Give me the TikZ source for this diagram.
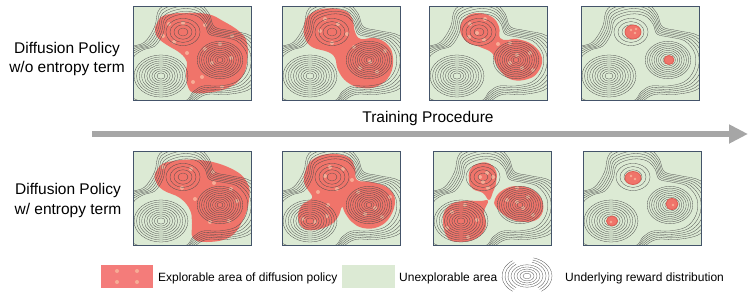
\documentclass[tikz,border=0pt]{standalone}
\usepackage{fontspec}
\setmainfont{Liberation Sans}
\usetikzlibrary{arrows.meta}
\definecolor{explred}{RGB}{240,116,106}
\definecolor{keyred}{RGB}{244,124,122}
\definecolor{seedred}{RGB}{247,172,150}
\definecolor{rimred}{RGB}{222,92,84}
\definecolor{unexgreen}{RGB}{220,234,212}
\definecolor{framegray}{RGB}{68,84,106}
\definecolor{arrowgray}{RGB}{166,166,166}

\newcommand{\rewardmap}{%
  \foreach \r in {4,6.55,...,27} {\pgfmathsetmacro\ry{0.78*\r}\draw[isoline] (28,70) ellipse [x radius=\r pt, y radius=\ry pt];}
  \foreach \r in {3,5.2,...,23.5} {\pgfmathsetmacro\ry{0.82*\r}\draw[isoline] (87,54) ellipse [x radius=\r pt, y radius=\ry pt];}
  \foreach \r in {5,9,13,17} {\pgfmathsetmacro\ry{0.8*\r}\draw[isoline] (50,26) ellipse [x radius=\r pt, y radius=\ry pt];}
  \foreach \s in {1,1.06,1.12,1.18,1.24,1.30}
    \draw[isoline, scale around={\s:(58,52)}] plot[smooth cycle, tension=0.6] coordinates {(50,8) (64,10) (72,18) (76,28) (88,31) (104,35) (114,48) (113,64) (103,76) (86,80) (70,80) (60,86) (52,95) (28,96) (0,92) (-3,70) (0,52) (10,44) (22,40) (30,28) (34,14)};
}
\newcommand{\mappanel}[3]{%
  \begin{scope}[shift={(#1,#2)}]
    \begin{scope}
      \fill[unexgreen] (0,0) rectangle (118,94);
      \clip (0,0) rectangle (118,94);
      #3
    \end{scope}
    \draw[mapframe] (0,0) rectangle (118,94);
  \end{scope}}

\begin{document}
\begin{tikzpicture}[x=1pt,y=-1pt,
  mapframe/.style={draw=framegray,line width=0.9pt},
  isoline/.style={draw=black!70,line width=0.3pt},
  expl/.style={fill=explred},
  seed/.style={fill=seedred},
  tiny/.style={fill=explred,draw=rimred,line width=0.8pt},
  rowtext/.style={font=\fontsize{15.5}{19}\selectfont,inner sep=0,anchor=base},
  keytext/.style={font=\fontsize{12}{14}\selectfont,inner sep=0,anchor=base west}]
\useasboundingbox (0,0) rectangle (748,300);

\node[rowtext] (woname) at (67,53) {Diffusion Policy};
\node[rowtext] (woterm) at (67,72) {w/o entropy term};
\node[rowtext] (wname) at (68,194) {Diffusion Policy};
\node[rowtext] (wterm) at (68,214) {w/ entropy term};

\mappanel{133}{6}{
  \fill[expl] plot[smooth cycle, tension=0.7] coordinates {(24,17) (30,10) (47,7) (74,8) (90,15) (107,26) (114,37) (114,56) (109,71) (97,81) (80,86) (62,87) (55,81) (53,66) (54,56) (47,47) (34,39) (25,32) (22,24)};
  \foreach \x/\y in {36/18,50/17,72/19,30/30,41/36,99/30,87/38,72/43,54/47,98/52,79/57,69/71,60/76,89/81}
    \fill[seed] (\x,\y) circle (2pt);
  \rewardmap}
\mappanel{282}{6}{
  \fill[expl] plot[smooth cycle, tension=0.7] coordinates {(22,21) (26,10) (40,3) (61,4) (70,12) (73,26) (79,33) (93,32) (106,39) (111,52) (108,69) (96,80) (80,82) (65,76) (56,64) (53,52) (46,46) (30,41) (23,32)};
  \foreach \x/\y in {43/13,56/18,38/25,65/28,50/37,72/41,103/45,88/56,78/62,95/66}
    \fill[seed] (\x,\y) circle (2pt);
  \rewardmap}
\mappanel{429}{6}{
  \fill[expl] plot[smooth cycle, tension=0.7] coordinates {(31,24) (36,12) (48,7) (63,11) (70,21) (71,32) (79,34) (88,33) (104,39) (113,52) (109,66) (99,73) (84,74) (73,67) (66,56) (63,47) (51,41) (38,36)};
  \foreach \x/\y in {41/18,56/13,40/31,55/34,48/27,69/38,81/37,101/47,88/49,81/57,93/62,104/64}
    \fill[seed] (\x,\y) circle (2pt);
  \rewardmap}
\mappanel{581}{6}{
  \rewardmap
  \filldraw[tiny] (52,26) ellipse [x radius=8pt, y radius=7pt];
  \filldraw[tiny] (88,54) ellipse [x radius=5pt, y radius=4.5pt];
  \foreach \x/\y in {54/27,50/24,55/23}
    \fill[seed] (\x,\y) circle (1.3pt);}

\mappanel{133}{151}{
  \fill[expl] plot[smooth cycle, tension=0.7] coordinates {(24,19) (35,11) (67,9) (97,17) (114,31) (116,49) (110,69) (97,86) (74,91) (60,87) (59,72) (57,59) (47,47) (30,39) (22,29)};
  \foreach \x/\y in {30/16,58/18,80/21,49/37,81/32,98/38,62/48,104/50,77/71,96/70}
    \fill[seed] (\x,\y) circle (2pt);
  \rewardmap}
\mappanel{282}{151}{
  \fill[expl] plot[smooth cycle, tension=0.7] coordinates {(23,21) (30,9) (46,3) (66,6) (73,17) (75,29) (90,31) (106,37) (113,49) (108,66) (96,76) (81,77) (70,71) (63,62) (60,56) (56,66) (48,74) (33,79) (21,77) (16,66) (20,54) (30,47) (26,39) (22,31)};
  \foreach \x/\y in {48/16,61/18,43/25,70/29,55/38,36/41,46/54,108/46,76/41,93/57,83/63,100/66,45/65,33/71,21/68}
    \fill[seed] (\x,\y) circle (2pt);
  \rewardmap}
\mappanel{433}{151}{
  \fill[expl] plot[smooth cycle, tension=0.7] coordinates {(37,19) (44,13) (55,12) (63,20) (63,32) (60,41) (56,49) (50,42) (40,38) (36,30)};
  \fill[expl] plot[smooth cycle, tension=0.7] coordinates {(10,66) (17,54) (30,50) (47,50) (55,50) (51,61) (53,75) (44,87) (27,91) (14,86)};
  \fill[expl] plot[smooth cycle, tension=0.7] coordinates {(62,48) (70,39) (84,35) (100,39) (110,52) (106,67) (90,71) (74,66) (63,56)};
  \foreach \x/\y in {47/26,54/22,60/26,50/31,55/37,19/61,32/54,44/69,35/86,14/77,74/49,84/51,90/57,100/64,84/37,95/46}
    \fill[seed] (\x,\y) circle (2pt);
  \rewardmap}
\mappanel{583}{151}{
  \rewardmap
  \filldraw[tiny] (50,27) ellipse [x radius=8pt, y radius=6.5pt];
  \filldraw[tiny] (89,53) ellipse [x radius=6pt, y radius=5.5pt];
  \filldraw[tiny] (29,70) ellipse [x radius=5.5pt, y radius=5pt];
  \foreach \x/\y in {52/28,48/25,90/54,28/71}
    \fill[seed] (\x,\y) circle (1.3pt);}

\coordinate (tstart) at (92,134);
\coordinate (tend) at (748,134);
\draw[arrowgray, line width=6pt, -{Triangle[length=19pt,width=18pt]}] (tstart) -- (tend);
\node[rowtext] (train) at (428,122) {Training Procedure};

\fill[keyred] (101,265) rectangle (153,288);
\foreach \x/\y in {117/271,137/271,117/282,137/282}
  \fill[seed] (\x,\y) circle (2pt);
\node[keytext] (kexpl) at (158,281) {Explorable area of diffusion policy};
\fill[unexgreen] (342,265) rectangle (395,288);
\node[keytext] (kunex) at (399,281) {Unexplorable area};
\foreach \r in {4,7,10,13,16} {\pgfmathsetmacro\ry{0.7*\r}\draw[isoline] (527,276) ellipse [x radius=\r pt, y radius=\ry pt];}
\foreach \r in {19,22,25} {
  \pgfmathsetmacro\ry{0.75*\r}
  \draw[isoline] (527,276) ++(125:\r pt and \ry pt) arc [start angle=125, end angle=235, x radius=\r pt, y radius=\ry pt];
  \draw[isoline] (527,276) ++(-55:\r pt and \ry pt) arc [start angle=-55, end angle=75, x radius=\r pt, y radius=\ry pt];}
\node[keytext] (kreward) at (565,281) {Underlying reward distribution};
\end{tikzpicture}
\end{document}
